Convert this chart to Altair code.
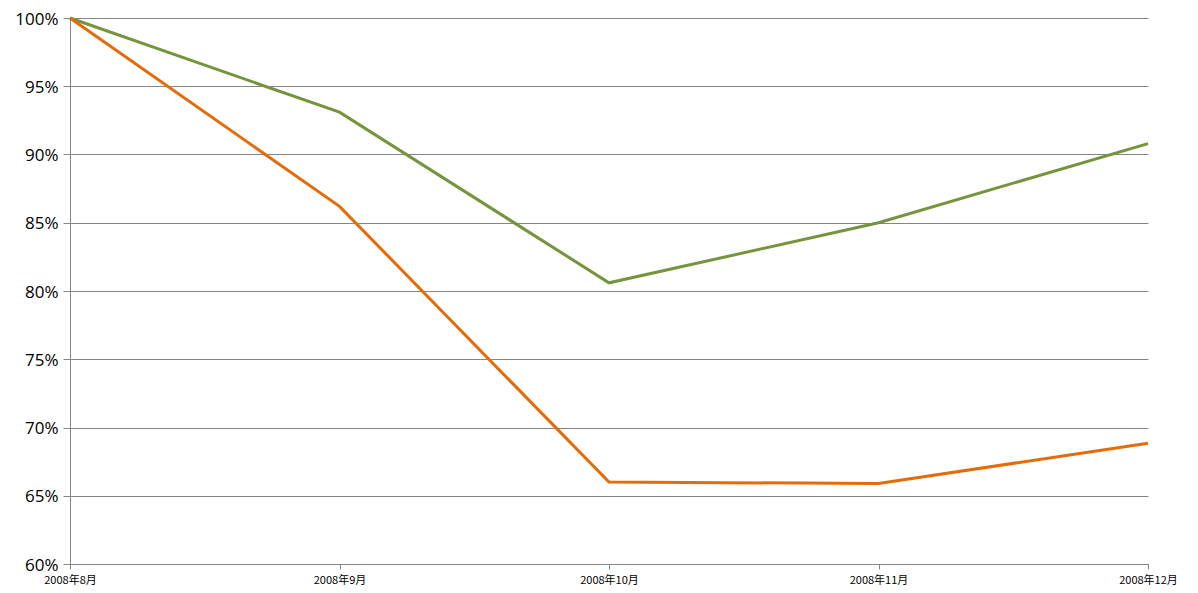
import altair as alt
import pandas as pd

months = ["2008年8月", "2008年9月", "2008年10月", "2008年11月", "2008年12月"]
green = [100.0, 93.1, 80.6, 85.0, 90.8]
orange = [100.0, 86.2, 66.0, 65.9, 68.85]

rows = []
for m, g, o in zip(months, green, orange):
    rows.append({"month": m, "series": "A", "value": g / 100})
    rows.append({"month": m, "series": "B", "value": o / 100})
df = pd.DataFrame(rows)

chart = alt.Chart(df).mark_line(strokeWidth=3).encode(
    x=alt.X("month:N", sort=months, scale=alt.Scale(type="point", padding=0),
            axis=alt.Axis(title=None, labelAngle=0, labelFont="Noto Sans CJK SC",
                          labelFontSize=11, labelColor="#000000", domainColor="#868686",
                          tickColor="#868686", tickSize=5, labelPadding=5, grid=False)),
    y=alt.Y("value:Q", scale=alt.Scale(domain=[0.6, 1.0], nice=False, zero=False),
            axis=alt.Axis(title=None, format=".0%", values=[0.6, 0.65, 0.7, 0.75, 0.8, 0.85, 0.9, 0.95, 1.0],
                          labelFont="Open Sans", labelFontSize=17, labelColor="#000000",
                          domainColor="#868686", tickColor="#868686", tickSize=7,
                          gridColor="#868686", gridWidth=1, labelPadding=5, labelOffset=1)),
    color=alt.Color("series:N", scale=alt.Scale(domain=["A", "B"], range=["#77933C", "#E36C09"]), legend=None),
).properties(
    width=1078, height=546,
    autosize=alt.AutoSizeParams(type="none"),
    padding={"left": 62, "top": 10, "right": 40, "bottom": 28},
).configure_view(stroke=None)

chart.save("out.html", embed_options={"renderer": "svg", "actions": False})
